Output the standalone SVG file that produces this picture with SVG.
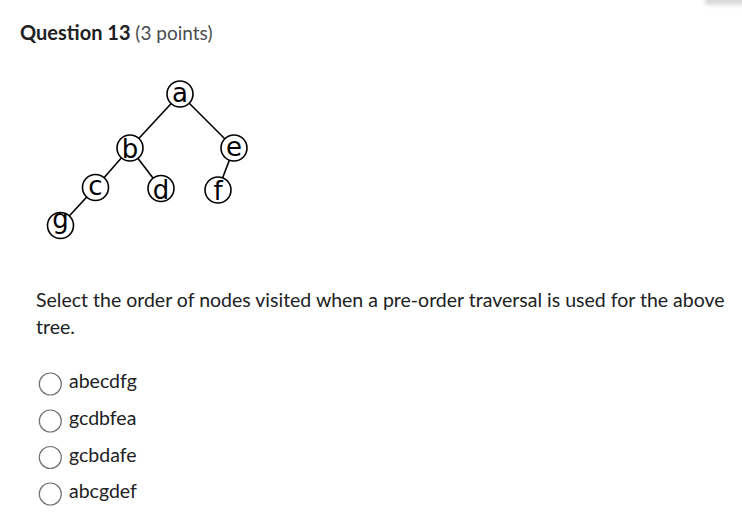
<svg xmlns="http://www.w3.org/2000/svg" width="742" height="512" viewBox="0 0 742 512">
<defs>
<filter id="blur" x="-50%" y="-50%" width="200%" height="200%"><feGaussianBlur stdDeviation="2"/></filter>
<style>
.txt{font-family:Lato,"Liberation Sans",sans-serif;fill:#202122;}
.title{font-size:20px;font-weight:700;}
.pts{font-size:19px;font-weight:400;fill:#494c4e;}
.body{font-size:19.5px;}
.opt{font-size:19.5px;}
.radio{fill:#ffffff;stroke:#6e7376;stroke-width:1.2;}
.node circle{fill:#ffffff;stroke:#000000;stroke-width:1.6;}
.node text{font-family:"DejaVu Sans",Verdana,sans-serif;font-size:26px;fill:#000000;text-anchor:middle;}
.edge{stroke:#000000;stroke-width:1.6;fill:none;}
</style>
</defs>
<rect width="742" height="512" fill="#ffffff"/>
<rect x="705" y="-4" width="45" height="9" fill="#d8d8d8" filter="url(#blur)"/>

<text class="txt" x="20" y="40"><tspan class="title">Question 13</tspan><tspan class="pts"> (3 points)</tspan></text>

<g id="connectors">
<line class="edge" x1="180" y1="94" x2="130" y2="148"/>
<line class="edge" x1="180" y1="94" x2="234" y2="148"/>
<line class="edge" x1="130" y1="148" x2="95.5" y2="187.5"/>
<line class="edge" x1="130" y1="148" x2="161" y2="188.5"/>
<line class="edge" x1="234" y1="148" x2="218" y2="190"/>
<line class="edge" x1="95.5" y1="187.5" x2="60.5" y2="225.5"/>
</g>

<g id="node-a" class="node"><circle cx="180" cy="94" r="13"/><text x="180" y="101.5">a</text></g>
<g id="node-b" class="node"><circle cx="130" cy="148" r="13"/><text x="130" y="158">b</text></g>
<g id="node-e" class="node"><circle cx="234" cy="148" r="13"/><text x="234" y="155.5">e</text></g>
<g id="node-c" class="node"><circle cx="95.5" cy="187.5" r="13"/><text x="95.5" y="195">c</text></g>
<g id="node-d" class="node"><circle cx="161" cy="188.5" r="13"/><text x="161" y="198.5">d</text></g>
<g id="node-f" class="node"><circle cx="218" cy="190" r="13"/><text x="218" y="199.5">f</text></g>
<g id="node-g" class="node"><circle cx="60.5" cy="225.5" r="13"/><text x="60.5" y="228">g</text></g>

<text class="txt body" x="36" y="306.5">Select the order of nodes visited when a pre-order traversal is used for the above</text>
<text class="txt body" x="36" y="333.5">tree.</text>

<g id="option-1"><circle class="radio" cx="50.3" cy="384" r="11"/><text class="txt opt" x="69" y="388">abecdfg</text></g>
<g id="option-2"><circle class="radio" cx="50.3" cy="421" r="11"/><text class="txt opt" x="69" y="425">gcdbfea</text></g>
<g id="option-3"><circle class="radio" cx="50.3" cy="457.5" r="11"/><text class="txt opt" x="69" y="461.5">gcbdafe</text></g>
<g id="option-4"><circle class="radio" cx="50.3" cy="494" r="11"/><text class="txt opt" x="69" y="498">abcgdef</text></g>
</svg>
